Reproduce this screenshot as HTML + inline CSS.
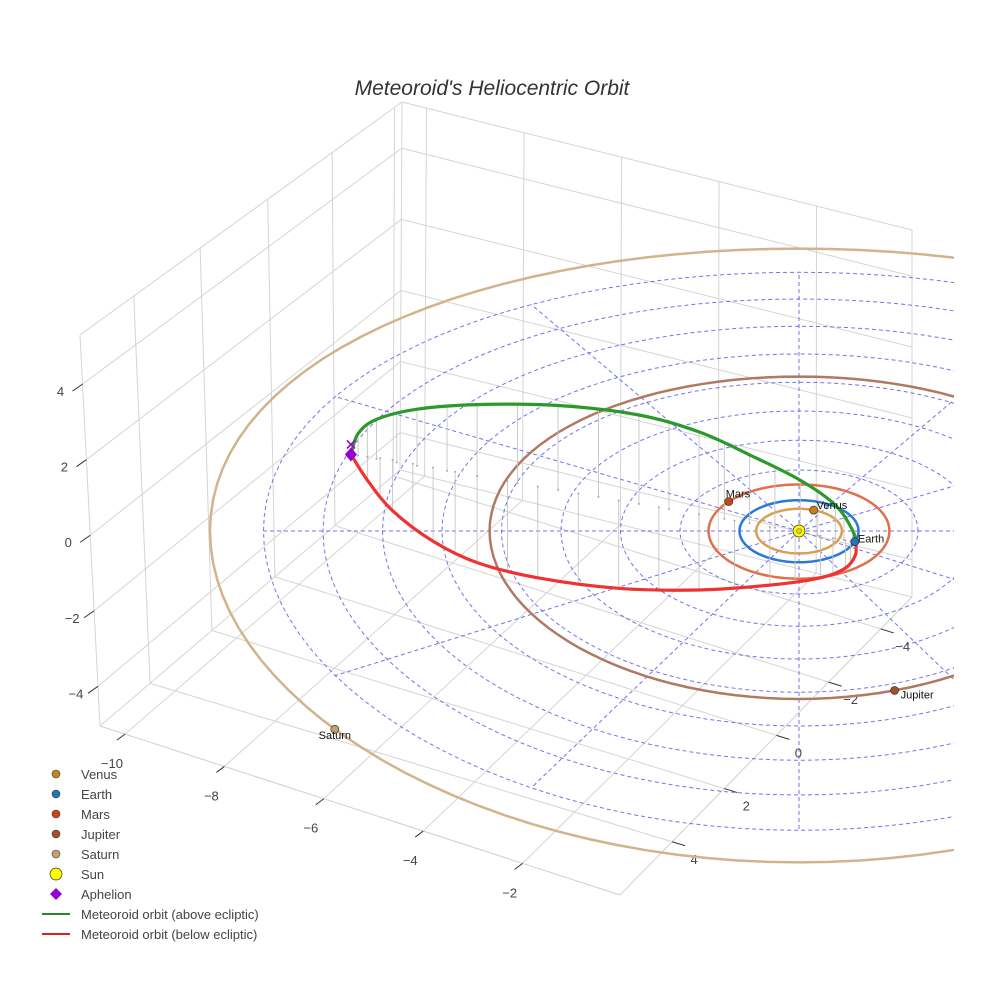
<!DOCTYPE html>
<html><head><meta charset="utf-8">
<style>
html,body{margin:0;padding:0;background:#fff;}
svg{display:block;font-family:"Liberation Sans",Arial,sans-serif;}
</style></head>
<body>
<svg id="chart" width="984" height="984" viewBox="0 0 984 984" xmlns="http://www.w3.org/2000/svg">
<defs><clipPath id="clipR"><rect x="0" y="0" width="954" height="984"/></clipPath></defs>
<rect width="984" height="984" fill="#fff"/>
<text x="492" y="95" text-anchor="middle" font-size="21" font-style="italic" fill="#333">Meteoroid's Heliocentric Orbit</text>
<g id="box"></g>
<g id="plane" clip-path="url(#clipR)"></g>
<g id="orbits" clip-path="url(#clipR)"></g>
<g id="meteor"></g>
<g id="planets"></g>
<g id="legend"></g>
</svg>
<script>
// ---- data ----
const xTicks = [-10, -8, -6, -4, -2];
const yTicks = [4, 2, 0, -2, -4];
const zTicks = [4, 2, 0, -2, -4];
const planetNames = ["Venus", "Earth", "Mars", "Jupiter", "Saturn"];
const planetRadii = [0.72, 1.0, 1.52, 5.2, 9.9];
const planetAngles = [70, -20, 141, -72, 218];
const gridRadii = [1, 2, 3, 4, 5, 6, 7, 8, 9];
const gridAngles = [0, 30, 60, 90, 120, 150, 180, 210, 240, 270, 300, 330];
// meteoroid samples (u, v in ecliptic plane, z height)
const aboveU = [-7.53, -7.41, -7.10, -6.42, -5.41, -4.05, -2.69, -1.68, -0.83, 0.02, 0.61, 0.90, 0.95];
const aboveV = [2.52, 2.48, 2.37, 2.14, 1.80, 1.34, 0.88, 0.54, 0.25, -0.04, -0.24, -0.34, -0.35];
const aboveZ = [0, 0.58, 1.04, 1.49, 1.88, 2.22, 2.34, 2.17, 1.80, 1.37, 0.88, 0.30, 0];
const belowU = [-7.53, -7.25, -6.83, -6.15, -5.41, -4.39, -3.03, -1.68, -0.49, 0.36, 0.78, 0.95, 0.95];
const belowV = [2.52, 2.45, 2.34, 2.08, 1.80, 1.45, 0.99, 0.54, 0.13, -0.15, -0.30, -0.35, -0.35];
const belowZ = [0, -0.63, -1.34, -1.94, -2.28, -2.40, -2.31, -1.99, -1.53, -1.11, -0.73, -0.34, 0];
const aphelionU = -7.53, aphelionV = 2.52, aphelionZ = 0;

const NS = "http://www.w3.org/2000/svg";
function mk(parent, tag, attrs) {
  const e = document.createElementNS(NS, tag);
  for (const k in attrs) e.setAttribute(k, attrs[k]);
  parent.appendChild(e);
  return e;
}
function PX(u, v) { return 799 + 59.5 * u; }
function PY(u, v, z) { return 531 - 31 * v + 0.25 * v * v - 38 * (z || 0); }

// ---- box ----
const box = document.getElementById('box');
const L = [100, 726], F = [620, 895], R = [912, 597], B = [400, 470];
const Lt = [80, 335], Bt = [402, 102], Rt = [912, 230];
function lerp(a, b, t) { return [a[0] + (b[0] - a[0]) * t, a[1] + (b[1] - a[1]) * t]; }
function gl(a, b, name, col) {
  const l = mk(box, 'line', {x1: a[0], y1: a[1], x2: b[0], y2: b[1], stroke: col || '#d4d4d4', 'stroke-width': 1});
  
  
}
function xT(x) { return 0.048 + (x + 10) * 0.0956; }
function yT(y) { return (6 - y) / 11.2; }
function yTleft(y) { return [0.167, 0.373, 0.583, 0.783, 0.977][yTicks.indexOf(y)] ?? yT(y); }
function zF(z) { return (z + 5.05) / 10.35; }
gl(Lt, Bt, 'box-edge'); gl(Bt, Rt, 'box-edge'); gl(Lt, L, 'box-edge');
gl(Rt, R, 'box-edge'); gl(Bt, B, 'box-edge'); gl(L, B, 'box-edge'); gl(B, R, 'box-edge');
gl(L, F, 'box-edge', '#cfcfcf'); gl(F, R, 'box-edge', '#cfcfcf');
xTicks.forEach(x => {
  const t = xT(x);
  const a = lerp(L, F, t), b = lerp(B, R, t), c = lerp(Bt, Rt, t);
  gl(a, b, 'floor-x-grid'); gl(b, c, 'back-wall-x-grid');
  const tk = mk(box, 'line', {x1: a[0], y1: a[1], x2: a[0] - 8, y2: a[1] + 6, stroke: '#333', 'stroke-width': 1});
  
  
  const tx = mk(box, 'text', {x: a[0] - 13, y: a[1] + 34, 'text-anchor': 'middle', 'font-size': 13, fill: '#444'});
  tx.textContent = '\u2212' + Math.abs(x);
  
  
});
yTicks.forEach(y => {
  const a = lerp(F, R, yT(y)), b = lerp(L, B, yTleft(y)), c = lerp(Lt, Bt, yTleft(y));
  gl(a, b, 'floor-y-grid'); gl(b, c, 'left-wall-y-grid');
  const tk = mk(box, 'line', {x1: a[0], y1: a[1], x2: a[0] + 13, y2: a[1] + 4, stroke: '#333', 'stroke-width': 1});
  
  
  const tx = mk(box, 'text', {x: a[0] + 22, y: a[1] + 22, 'text-anchor': 'middle', 'font-size': 13, fill: '#444'});
  tx.textContent = y < 0 ? '\u2212' + Math.abs(y) : String(y);
  
  
});
zTicks.forEach(z => {
  const f = zF(z);
  const l = lerp(L, Lt, f), b = lerp(B, Bt, f), r = lerp(R, Rt, f);
  gl(l, b, 'left-wall-z-grid'); gl(b, r, 'back-wall-z-grid');
  const tk = mk(box, 'line', {x1: l[0], y1: l[1], x2: l[0] - 10, y2: l[1] + 7, stroke: '#333', 'stroke-width': 1});
  
  
  const tx = mk(box, 'text', {x: l[0] - 22, y: l[1] + 12, 'text-anchor': 'middle', 'font-size': 13, fill: '#444'});
  tx.textContent = z < 0 ? '\u2212' + Math.abs(z) : String(z);
  
  
});

// ---- ecliptic dashed grid ----
const plane = document.getElementById('plane');
function ringPath(r) {
  let d = '';
  for (let i = 0; i <= 120; i++) {
    const a = i / 120 * 2 * Math.PI;
    const u = r * Math.cos(a), v = r * Math.sin(a);
    d += (i ? 'L' : 'M') + PX(u, v).toFixed(1) + ' ' + PY(u, v).toFixed(1);
  }
  return d;
}
gridRadii.forEach(r => {
  const p = mk(plane, 'path', {d: ringPath(r), fill: 'none', stroke: '#5a5ae6', 'stroke-width': 1, 'stroke-dasharray': '4,3', opacity: 0.85});
  
  
});
gridAngles.forEach(deg => {
  const a = deg * Math.PI / 180, r = gridRadii[gridRadii.length - 1];
  const u = r * Math.cos(a), v = r * Math.sin(a);
  const p = mk(plane, 'line', {x1: PX(0, 0), y1: PY(0, 0), x2: PX(u, v), y2: PY(u, v), stroke: '#5a5ae6', 'stroke-width': 1, 'stroke-dasharray': '4,3', opacity: 0.85});
  
  
});

// ---- planet orbits ----
const orbitColors = ['#d9a050', '#2a78d8', '#e0704a', '#b07a62', '#d2b48c'];
const markerColors = ['#c8821a', '#1f77b4', '#c8461a', '#a0522d', '#c4a070'];
const orbits = document.getElementById('orbits');
planetRadii.forEach((r, i) => {
  const p = mk(orbits, 'path', {d: ringPath(r), fill: 'none', stroke: orbitColors[i], 'stroke-width': 2.5});
  
  
});

// ---- meteoroid ----
const met = document.getElementById('meteor');
function smooth(us, vs, zs) {
  const pts = us.map((u, i) => [PX(u, vs[i]), PY(u, vs[i], zs[i])]);
  let d = 'M' + pts[0][0] + ' ' + pts[0][1];
  for (let i = 0; i < pts.length - 1; i++) {
    const p0 = pts[Math.max(0, i - 1)], p1 = pts[i], p2 = pts[i + 1], p3 = pts[Math.min(pts.length - 1, i + 2)];
    const c1 = [p1[0] + (p2[0] - p0[0]) / 6, p1[1] + (p2[1] - p0[1]) / 6];
    const c2 = [p2[0] - (p3[0] - p1[0]) / 6, p2[1] - (p3[1] - p1[1]) / 6];
    d += 'C' + c1[0].toFixed(1) + ' ' + c1[1].toFixed(1) + ' ' + c2[0].toFixed(1) + ' ' + c2[1].toFixed(1) + ' ' + p2[0].toFixed(1) + ' ' + p2[1].toFixed(1);
  }
  return d;
}
function drops(us, vs, zs) {
  for (let i = 1; i < us.length - 1; i++) {
    for (let k = 0; k < 2; k++) {
      const j = i + 1 < us.length ? i + 1 : i;
      const f = k * 0.5;
      const u = us[i] + (us[j] - us[i]) * f, v = vs[i] + (vs[j] - vs[i]) * f, z = zs[i] + (zs[j] - zs[i]) * f;
      const l = mk(met, 'line', {x1: PX(u, v), y1: PY(u, v, z), x2: PX(u, v), y2: PY(u, v, 0), stroke: '#c4c4c4', 'stroke-width': 0.9});
      
      
      const c = mk(met, 'circle', {cx: PX(u, v), cy: PY(u, v, 0), r: 1, fill: '#aaa'});
      
      
    }
  }
}
drops(aboveU, aboveV, aboveZ);
drops(belowU, belowV, belowZ);
const g1 = mk(met, 'path', {d: smooth(aboveU, aboveV, aboveZ), fill: 'none', stroke: '#2a9a2a', 'stroke-width': 3.2, 'stroke-linecap': 'round'});


const r1 = mk(met, 'path', {d: smooth(belowU, belowV, belowZ), fill: 'none', stroke: '#ee3333', 'stroke-width': 3.2, 'stroke-linecap': 'round'});


const ax = PX(aphelionU, aphelionV), ay = PY(aphelionU, aphelionV, aphelionZ);
const xm = mk(met, 'path', {d: `M${ax-4} ${ay-14}L${ax+4} ${ay-6}M${ax+4} ${ay-14}L${ax-4} ${ay-6}`, stroke: '#9400d3', 'stroke-width': 1.6});


const dia = mk(met, 'path', {d: `M${ax} ${ay-7}L${ax+6} ${ay}L${ax} ${ay+7}L${ax-6} ${ay}Z`, fill: '#9400d3'});



// ---- planets ----
const pg = document.getElementById('planets');
const labelOff = [[3, -1, 'start'], [3, 1, 'start'], [-3, -4, 'start'], [6, 8, 'start'], [0, 10, 'middle']];
planetRadii.forEach((r, i) => {
  const a = planetAngles[i] * Math.PI / 180;
  const u = r * Math.cos(a), v = r * Math.sin(a);
  const x = PX(u, v), y = PY(u, v);
  const c = mk(pg, 'circle', {cx: x, cy: y, r: 4, fill: markerColors[i], stroke: '#333', 'stroke-width': 0.7});
  
  
  const t = mk(pg, 'text', {x: x + labelOff[i][0], y: y + labelOff[i][1], 'font-size': 11, fill: '#111', 'text-anchor': labelOff[i][2]});
  t.textContent = planetNames[i];
  
  
});
const sun = mk(pg, 'circle', {cx: PX(0, 0), cy: PY(0, 0), r: 6, fill: '#ffff00', stroke: '#333', 'stroke-width': 0.8});


const sun2 = mk(pg, 'circle', {cx: PX(0, 0), cy: PY(0, 0), r: 2.5, fill: '#dddd00', stroke: '#666', 'stroke-width': 0.6});



// ---- legend ----
const lg = document.getElementById('legend');
const legendLabels = ["Venus", "Earth", "Mars", "Jupiter", "Saturn", "Sun", "Aphelion", "Meteoroid orbit (above ecliptic)", "Meteoroid orbit (below ecliptic)"];
legendLabels.forEach((lab, i) => {
  const y = 774 + i * 20;
  let m;
  if (i < 5) m = mk(lg, 'circle', {cx: 56, cy: y, r: 4, fill: markerColors[i], stroke: '#333', 'stroke-width': 0.6});
  else if (i === 5) m = mk(lg, 'circle', {cx: 56, cy: y, r: 6, fill: '#ffff00', stroke: '#333', 'stroke-width': 0.7});
  else if (i === 6) m = mk(lg, 'path', {d: `M56 ${y-6}L62 ${y}L56 ${y+6}L50 ${y}Z`, fill: '#9400d3'});
  else m = mk(lg, 'line', {x1: 42, y1: y, x2: 70, y2: y, stroke: i === 7 ? '#228b22' : '#e32020', 'stroke-width': 2});
  
  
  const t = mk(lg, 'text', {x: 81, y: y + 5, 'font-size': 13, fill: '#444'});
  t.textContent = lab;
  
  
});
</script>
</body></html>
